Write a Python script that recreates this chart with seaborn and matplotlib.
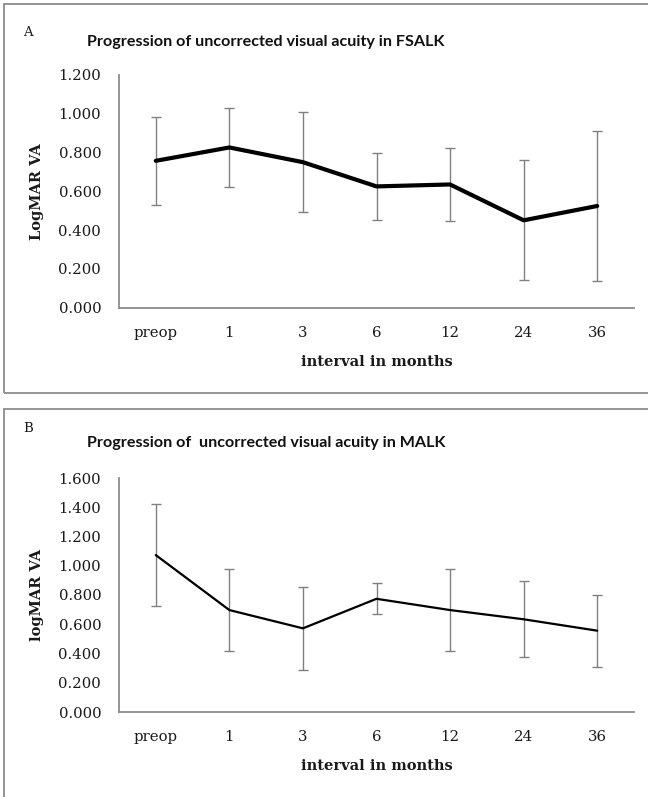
import numpy as np
import pandas as pd
import matplotlib
matplotlib.use("Agg")
import matplotlib.pyplot as plt
from matplotlib.patches import Rectangle
from matplotlib.ticker import FormatStrFormatter, MultipleLocator
import seaborn as sns

# ---- data ----
intervals = ["preop", "1", "3", "6", "12", "24", "36"]
fsalk_mean = [0.757, 0.826, 0.750, 0.625, 0.635, 0.450, 0.524]
fsalk_sd = [0.228, 0.206, 0.258, 0.173, 0.190, 0.310, 0.385]
malk_mean = [1.073, 0.697, 0.572, 0.774, 0.697, 0.634, 0.556]
malk_sd = [0.347, 0.280, 0.283, 0.106, 0.280, 0.260, 0.247]
titles = ["Progression of uncorrected visual acuity in FSALK",
          "Progression of  uncorrected visual acuity in MALK"]
ylabels = ["LogMAR VA", "logMAR VA"]
panel_letters = ["A", "B"]
xlabel = "interval in months"

sns.set_style("white")
plt.rcParams["font.family"] = ["DejaVu Serif"]

W, H = 648, 797
fig = plt.figure(figsize=(W / 100, H / 100), dpi=100)

GRAY = "#8c8c8c"
EGRAY = "#808080"
TXT = "#1a1a1a"

def fx(px):
    return px / W

def fy(py):
    return 1 - py / H

panels = [
    dict(mean=fsalk_mean, sd=fsalk_sd, top=75, bottom=307.5, ymax=1.2, lw=3.0,
         box=(4, 393), title_y=42, letter_y=33),
    dict(mean=malk_mean, sd=malk_sd, top=478, bottom=712, ymax=1.6, lw=1.6,
         box=(409, 820), title_y=443, letter_y=429),
]

left, right = 119, 634
for i, p in enumerate(panels):
    # panel frame
    y0, y1 = p["box"]
    fig.patches.append(Rectangle((fx(4), fy(y1)), 2, (y1 - y0) / H,
                                 transform=fig.transFigure, fill=False,
                                 edgecolor=GRAY, lw=1.3))
    ax = fig.add_axes([fx(left), fy(p["bottom"]), (right - left) / W,
                       (p["bottom"] - p["top"]) / H])
    df = pd.DataFrame({"interval": intervals, "mean": p["mean"], "sd": p["sd"]})
    pos = np.arange(len(intervals))
    ax.errorbar(pos, df["mean"], yerr=df["sd"], fmt="none", ecolor=EGRAY,
                elinewidth=1.0, capsize=3.6, capthick=1.0, zorder=1)
    sns.lineplot(data=df, x="interval", y="mean", ax=ax, color="black",
                 lw=p["lw"], sort=False, zorder=3, solid_joinstyle="round")
    ax.set_xlim(-0.5, len(intervals) - 0.5)
    ax.set_ylim(0, p["ymax"])
    ax.yaxis.set_major_locator(MultipleLocator(0.2))
    ax.yaxis.set_major_formatter(FormatStrFormatter("%.3f"))
    for s in ["top", "right"]:
        ax.spines[s].set_visible(False)
    for s in ["left", "bottom"]:
        ax.spines[s].set_color(GRAY)
        ax.spines[s].set_linewidth(1.3)
    ax.tick_params(axis="y", direction="out", length=4.3, width=1.0,
                   color=GRAY, pad=8.5, labelsize=10.7, labelcolor=TXT)
    ax.tick_params(axis="x", length=0, pad=13, labelsize=10.7,
                   labelcolor=TXT)
    ax.set_ylabel("")
    ax.set_xlabel(xlabel, fontsize=10.5, fontweight="bold", va="center",
                  color=TXT)
    ax.xaxis.set_label_coords(0.5, -54.2 / (p["bottom"] - p["top"]))
    fig.text(fx(37), fy((p["top"] + p["bottom"]) / 2), ylabels[i],
             rotation=90, ha="center", va="center", fontsize=10.5,
             fontweight="bold", color=TXT)
    fig.text(fx(266), fy(p["title_y"]), titles[i], ha="center", va="center",
             fontsize=11.6, fontweight="bold", family=["Lato", "DejaVu Sans"],
             color="#111111")
    fig.text(fx(28), fy(p["letter_y"]), panel_letters[i], ha="center",
             va="center", fontsize=9.5, color=TXT)

fig.savefig("out.png", dpi=100, facecolor="white")
